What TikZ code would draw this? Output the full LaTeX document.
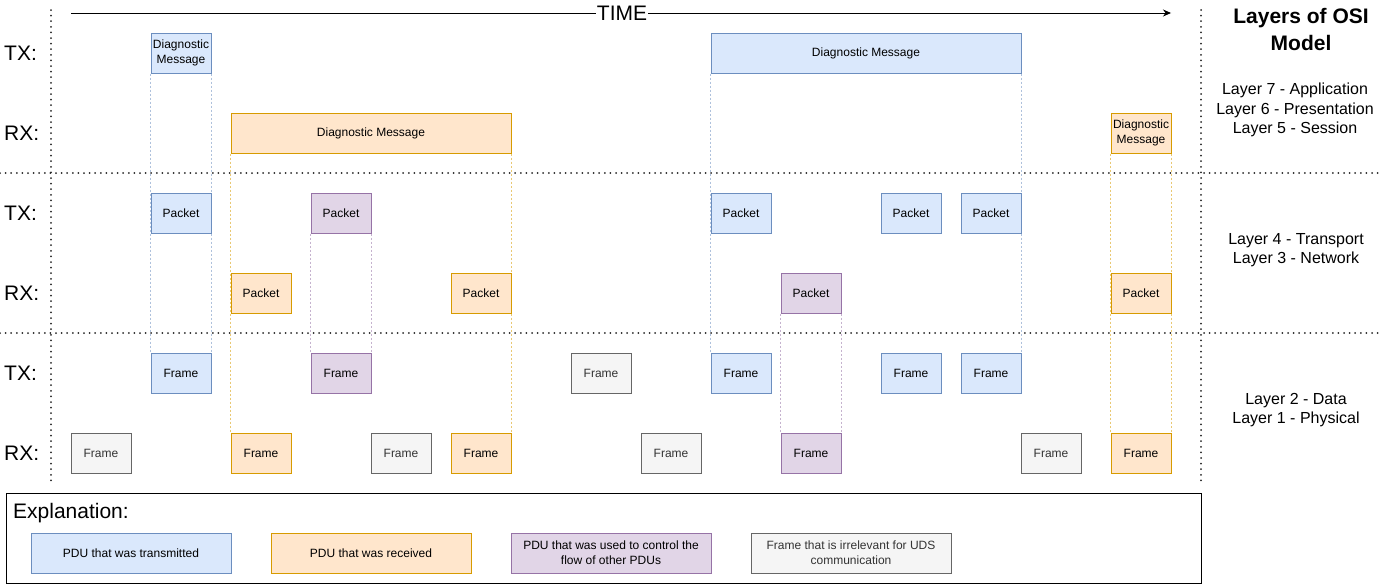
\documentclass[tikz,border=0pt]{standalone}
\usepackage{fontspec}
\setmainfont{Liberation Sans}
\usetikzlibrary{arrows.meta,backgrounds}
\definecolor{bfill}{HTML}{DAE8FC}\definecolor{bdraw}{HTML}{6C8EBF}
\definecolor{ofill}{HTML}{FFE6CC}\definecolor{odraw}{HTML}{D79B00}
\definecolor{pfill}{HTML}{E1D5E7}\definecolor{pdraw}{HTML}{9673A6}
\definecolor{gfill}{HTML}{F5F5F5}\definecolor{gdraw}{HTML}{666666}\definecolor{gtext}{HTML}{333333}
\tikzset{
  pdu/.style={draw, line width=1pt, minimum height=40pt, inner sep=0pt, align=center,
    font=\fontsize{12}{15}\selectfont, text=black},
  tx/.style={pdu, fill=bfill, draw=bdraw},
  rx/.style={pdu, fill=ofill, draw=odraw},
  ctl/.style={pdu, fill=pfill, draw=pdraw},
  irr/.style={pdu, fill=gfill, draw=gdraw, text=gtext},
  guide/.style={line width=0.5pt, dash pattern=on 2pt off 2pt, draw opacity=0.55},
  sep/.style={line width=2pt, dash pattern=on 0pt off 5.6pt, line cap=round, black!85},
  rowlabel/.style={font=\fontsize{21}{25}\selectfont, anchor=west, inner sep=0pt},
  layertext/.style={font=\fontsize{16}{19.5}\selectfont, align=center, inner sep=0pt},
}
\begin{document}
\begin{tikzpicture}[x=1pt,y=-1pt]
\useasboundingbox (0,0) rectangle (1383,584);
% row labels
\node[rowlabel] (l1) at (4,53) {TX:};
\node[rowlabel] (l2) at (4,133) {RX:};
\node[rowlabel] (l3) at (4,213) {TX:};
\node[rowlabel] (l4) at (4,293) {RX:};
\node[rowlabel] (l5) at (4,373) {TX:};
\node[rowlabel] (l6) at (4,453) {RX:};
% layer 7-5
\node[tx, minimum width=60pt] (d1) at (181,53) {Diagnostic\\Message};
\node[tx, minimum width=310pt] (d2) at (866,53) {Diagnostic Message};
\node[rx, minimum width=280pt] (d3) at (371,133) {Diagnostic Message};
\node[rx, minimum width=60pt] (d4) at (1141,133) {Diagnostic\\Message};
% layer 4-3
\node[tx, minimum width=60pt] (p1) at (181,213) {Packet};
\node[ctl, minimum width=60pt] (p2) at (341,213) {Packet};
\node[tx, minimum width=60pt] (p3) at (741,213) {Packet};
\node[tx, minimum width=60pt] (p4) at (911,213) {Packet};
\node[tx, minimum width=60pt] (p5) at (991,213) {Packet};
\node[rx, minimum width=60pt] (p6) at (261,293) {Packet};
\node[rx, minimum width=60pt] (p7) at (481,293) {Packet};
\node[ctl, minimum width=60pt] (p8) at (811,293) {Packet};
\node[rx, minimum width=60pt] (p9) at (1141,293) {Packet};
% layer 2-1
\node[tx, minimum width=60pt] (f1) at (181,373) {Frame};
\node[ctl, minimum width=60pt] (f2) at (341,373) {Frame};
\node[irr, minimum width=60pt] (f3) at (601,373) {Frame};
\node[tx, minimum width=60pt] (f4) at (741,373) {Frame};
\node[tx, minimum width=60pt] (f5) at (911,373) {Frame};
\node[tx, minimum width=60pt] (f6) at (991,373) {Frame};
\node[irr, minimum width=60pt] (f7) at (101,453) {Frame};
\node[rx, minimum width=60pt] (f8) at (261,453) {Frame};
\node[irr, minimum width=60pt] (f9) at (401,453) {Frame};
\node[rx, minimum width=60pt] (f10) at (481,453) {Frame};
\node[irr, minimum width=60pt] (f11) at (671,453) {Frame};
\node[ctl, minimum width=60pt] (f12) at (811,453) {Frame};
\node[irr, minimum width=60pt] (f13) at (1051,453) {Frame};
\node[rx, minimum width=60pt] (f14) at (1141,453) {Frame};
% right column
\node[font=\fontsize{21}{27}\selectfont\bfseries, align=center, inner sep=0pt] (title) at (1301,29) {Layers of OSI\\Model};
\node[layertext] (lay7) at (1295,110) {Layer 7 - Application\\Layer 6 - Presentation\\Layer 5 - Session};
\node[layertext] (lay4) at (1296,250) {Layer 4 - Transport\\Layer 3 - Network};
\node[layertext] (lay2) at (1296,410) {Layer 2 - Data\\Layer 1 - Physical};
% time arrow
\coordinate (t0) at (71,13);
\coordinate (t1) at (1171,13);
\node[font=\fontsize{21}{25}\selectfont, fill=white, inner xsep=1pt, inner ysep=0pt] (time) at (622,13) {TIME};
\begin{scope}[on background layer]
\draw[line width=1pt, -{Stealth[length=8pt,width=7pt]}] (t0) -- (t1);
% separators
\coordinate (h1a) at (0,173); \coordinate (h1b) at (1383,173);
\coordinate (h2a) at (0,333); \coordinate (h2b) at (1383,333);
\coordinate (v1a) at (51,10); \coordinate (v1b) at (51,484);
\coordinate (v2a) at (1201,10); \coordinate (v2b) at (1201,484);
\draw[sep] (h1a) -- (h1b);
\draw[sep] (h2a) -- (h2b);
\draw[sep] (v1a) -- (v1b);
\draw[sep] (v2a) -- (v2b);
% guides
\draw[guide, bdraw] (d1.south west) -- (f1.north west);
\draw[guide, bdraw] (d1.south east) -- (f1.north east);
\draw[guide, bdraw] (d2.south west) -- (f4.north west);
\draw[guide, bdraw] (d2.south east) -- (f6.north east);
\draw[guide, odraw] (d3.south west) -- (f8.north west);
\draw[guide, odraw] (d3.south east) -- (f10.north east);
\draw[guide, odraw] (d4.south west) -- (f14.north west);
\draw[guide, odraw] (d4.south east) -- (f14.north east);
\draw[guide, pdraw] (p2.south west) -- (f2.north west);
\draw[guide, pdraw] (p2.south east) -- (f2.north east);
\draw[guide, pdraw] (p8.south west) -- (f12.north west);
\draw[guide, pdraw] (p8.south east) -- (f12.north east);
\end{scope}
% explanation
\node[draw, line width=1pt, minimum width=1195pt, minimum height=90pt, inner sep=0pt, anchor=north west] (expl) at (6,493) {};
\node[font=\fontsize{21}{25}\selectfont, anchor=west, inner sep=0pt] (expltitle) at (13,513) {Explanation:};
\node[tx, minimum width=200pt] (e1) at (131,553) {PDU that was transmitted};
\node[rx, minimum width=200pt] (e2) at (371,553) {PDU that was received};
\node[ctl, minimum width=200pt] (e3) at (611,553) {PDU that was used to control the\\flow of other PDUs};
\node[irr, minimum width=200pt] (e4) at (851,553) {Frame that is irrelevant for UDS\\communication};
\end{tikzpicture}
\end{document}
